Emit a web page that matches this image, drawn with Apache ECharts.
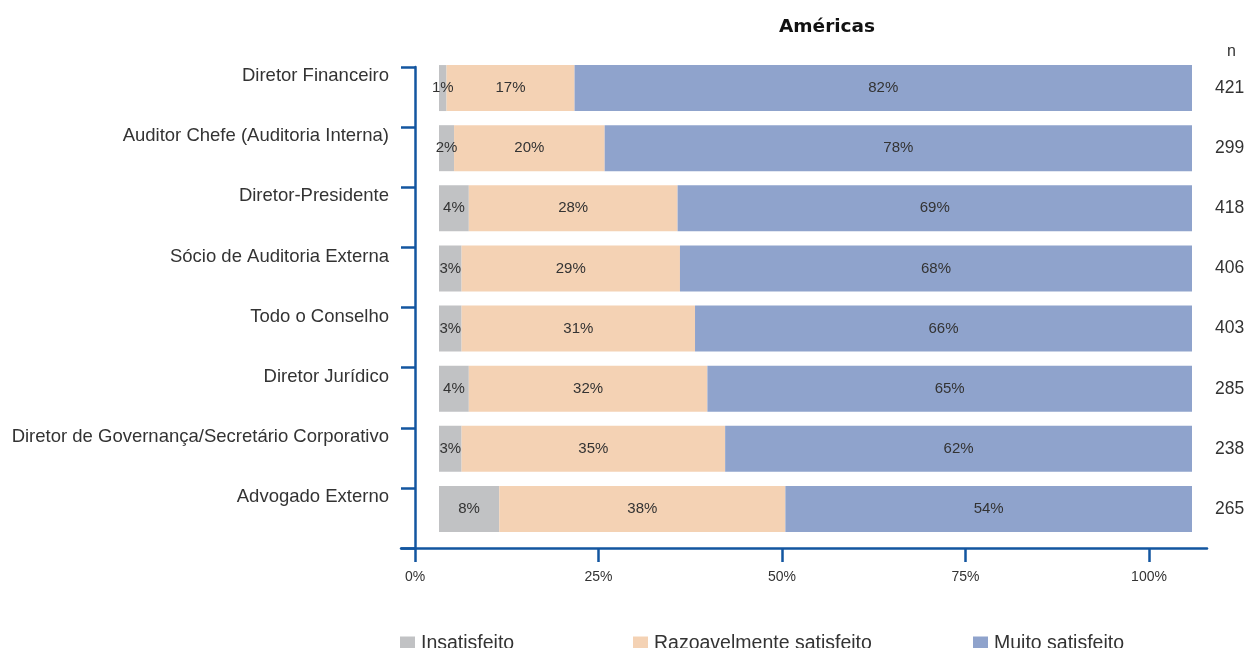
<!DOCTYPE html>
<html>
<head>
<meta charset="utf-8">
<script src="https://cdn.jsdelivr.net/npm/echarts@6/dist/echarts.min.js"></script>
<style>
html,body{margin:0;padding:0;background:#fff;}
#chart{width:1252px;height:648px;}
</style>
</head>
<body>
<div id="chart"></div>
<script>
const categories = [
  'Diretor Financeiro',
  'Auditor Chefe (Auditoria Interna)',
  'Diretor-Presidente',
  'Sócio de Auditoria Externa',
  'Todo o Conselho',
  'Diretor Jurídico',
  'Diretor de Governança/Secretário Corporativo',
  'Advogado Externo'
];
const seriesNames = ['Insatisfeito', 'Razoavelmente satisfeito', 'Muito satisfeito'];
const insatisfeito = [1, 2, 4, 3, 3, 4, 3, 8];
const razoavelmente = [17, 20, 28, 29, 31, 32, 35, 38];
const muito = [82, 78, 69, 68, 66, 65, 62, 54];
const nValues = [421, 299, 418, 406, 403, 285, 238, 265];
const xTicks = [0, 25, 50, 75, 100];
const title = 'Américas';

const colors = ['#c1c2c4', '#f4d2b4', '#8fa3cc'];
const axisColor = '#1356a0';
const FONT = '"Liberation Sans", Arial, sans-serif';

const raw = [insatisfeito, razoavelmente, muito];
const totals = categories.map((_, i) => raw.reduce((s, arr) => s + arr[i], 0));

const chart = echarts.init(document.getElementById('chart'), null, {renderer: 'canvas'});

const series = raw.map((arr, k) => ({
  name: seriesNames[k],
  type: 'bar',
  stack: 'total',
  xAxisIndex: 1,
  yAxisIndex: 1,
  barWidth: 46,
  itemStyle: {color: colors[k]},
  label: {
    show: true,
    position: 'inside',
    color: '#333',
    fontSize: 15,
    fontFamily: FONT,
    formatter: p => arr[p.dataIndex] + '%'
  },
  emphasis: {disabled: true},
  data: arr.map((v, i) => v / totals[i] * 100)
}));

const legendLefts = [400, 633, 973];

chart.setOption({
  animation: false,
  title: [
    {text: title, left: 779, top: 18, padding: 0, textStyle: {fontFamily: '"DejaVu Sans", sans-serif', fontWeight: 'bold', fontSize: 18.5, color: '#111'}},
    {text: 'n', left: 1227, top: 44, padding: 0, textStyle: {fontFamily: FONT, fontWeight: 'normal', fontSize: 16, color: '#333'}}
  ],
  legend: seriesNames.map((name, k) => ({
    data: [name],
    left: legendLefts[k],
    top: 634,
    padding: 0,
    icon: 'rect',
    itemWidth: 15,
    itemHeight: 15,
    itemGap: 0,
    selectedMode: false,
    textStyle: {fontFamily: FONT, fontSize: 19.5, color: '#333', padding: [6, 0, 0, 1]}
  })),
  grid: [
    {left: 401, right: 45, top: 67, bottom: 100, containLabel: false},
    {left: 439, right: 60, top: 58, bottom: 109, containLabel: false}
  ],
  xAxis: [
    {
      gridIndex: 0,
      type: 'value',
      min: -1.907,
      max: 107.9,
      axisLine: {show: true, lineStyle: {color: axisColor, width: 2.5}},
      axisTick: {show: true, length: 14, customValues: xTicks, lineStyle: {color: axisColor, width: 2.5}},
      axisLabel: {customValues: xTicks, formatter: v => v + '%', color: '#333', fontSize: 14, fontFamily: FONT, margin: 22},
      splitLine: {show: false}
    },
    {
      gridIndex: 1,
      type: 'value',
      min: 0,
      max: 100,
      show: false
    }
  ],
  yAxis: [
    {
      gridIndex: 0,
      type: 'category',
      inverse: true,
      data: categories,
      axisLine: {show: true, onZero: true, lineStyle: {color: axisColor, width: 2.5}},
      axisTick: {show: true, length: 14, lineStyle: {color: axisColor, width: 2.5}},
      axisLabel: {
        color: '#333', fontSize: 18.5, fontFamily: FONT, margin: 12,
        formatter: v => '{a|' + v + '}',
        rich: {a: {color: '#333', fontSize: 18.5, fontFamily: FONT, padding: [0, 0, 42, 0]}}
      }
    },
    {
      gridIndex: 1,
      type: 'category',
      inverse: true,
      data: categories,
      show: false
    },
    {
      gridIndex: 1,
      type: 'category',
      inverse: true,
      position: 'right',
      data: nValues.map(String),
      axisLine: {show: false},
      axisTick: {show: false},
      axisLabel: {color: '#333', fontSize: 17.5, fontFamily: FONT, margin: 23}
    }
  ],
  series: series
});
</script>
</body>
</html>
